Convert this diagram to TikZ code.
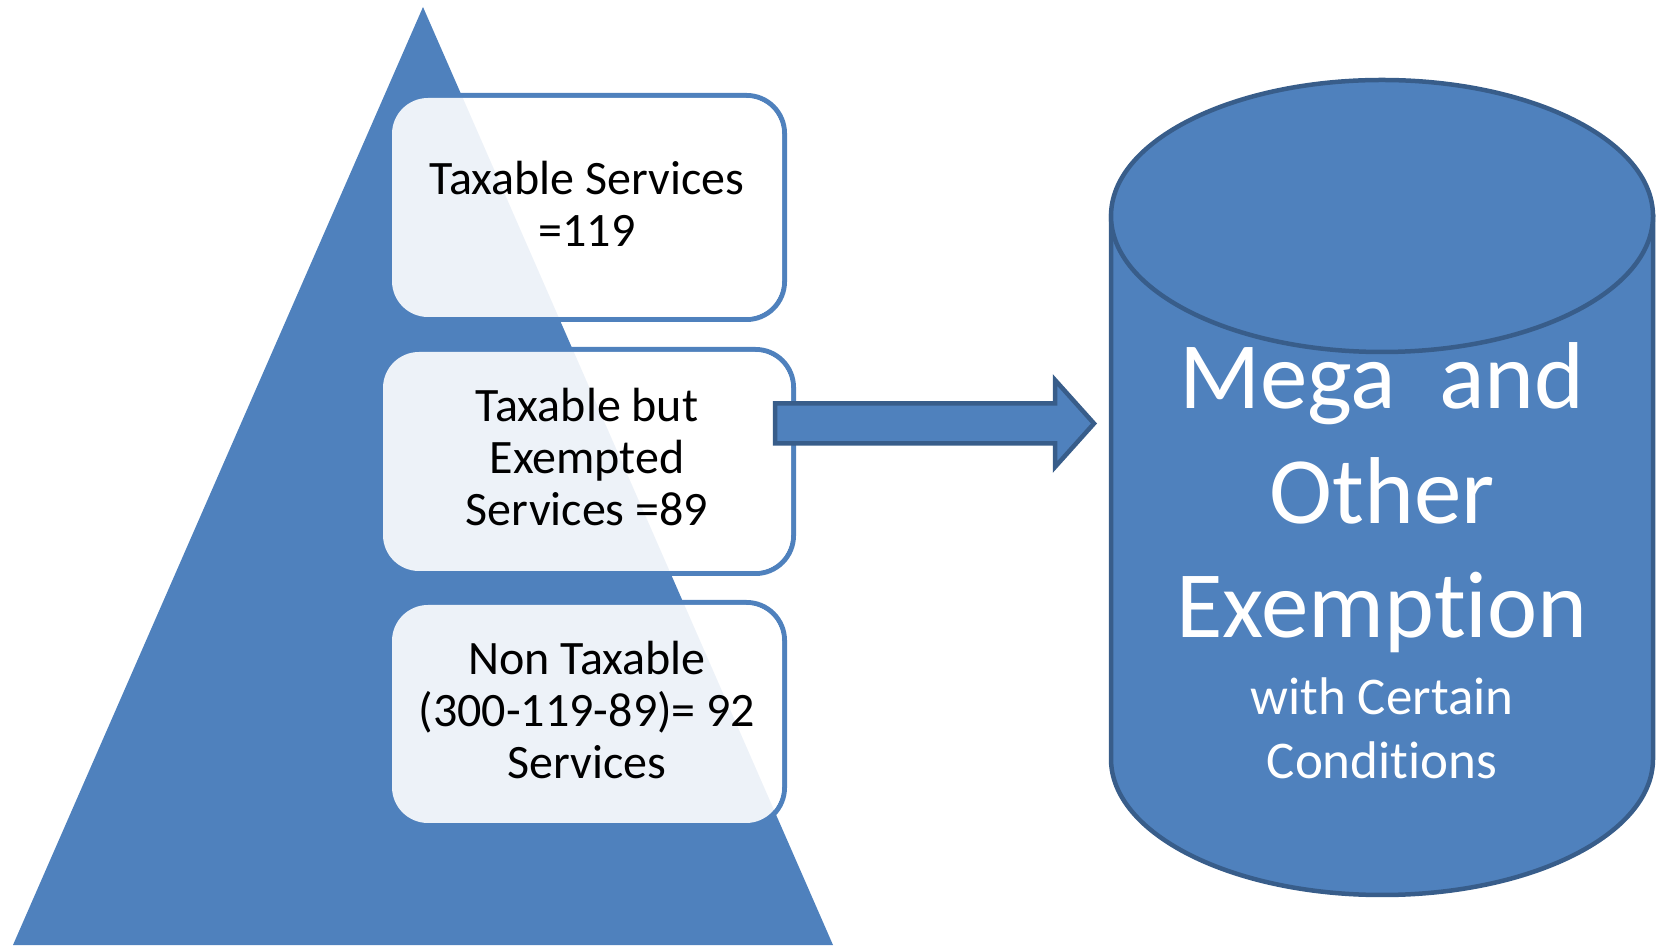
\documentclass[tikz,border=0pt]{standalone}
\usepackage{fontspec}
\setmainfont{Carlito}[Ligatures=NoCommon]
\definecolor{tri}{HTML}{4F81BD}
\definecolor{dark}{HTML}{385D8A}
\tikzset{
  boxfill/.style={fill=white, fill opacity=0.9, rounded corners=36pt},
  boxborder/.style={draw=tri, line width=5pt, rounded corners=38pt},
  boxtext/.style={font=\fontsize{48}{52}\selectfont, text=black, inner sep=0pt, anchor=base},
  bigtext/.style={font=\fontsize{95}{114}\selectfont, text=white, inner sep=0pt, anchor=base},
  smalltext/.style={font=\fontsize{53}{63}\selectfont, text=white, inner sep=0pt, anchor=base},
  solid3d/.style={fill=tri, draw=dark, line width=4.5pt, line join=miter},
}
\begin{document}
\begin{tikzpicture}[x=1pt,y=1pt]
\useasboundingbox (0,0) rectangle (1657,945);
\clip (0,0) rectangle (1657,945);
% pyramid
\fill[tri] (423,938) -- (13,0) -- (833,0) -- cycle;
% boxes
\draw[boxborder] (389.5,625.5) rectangle (784.5,849.5);
\fill[boxfill] (392,628) rectangle (782,847);
\draw[boxborder] (380.5,371.5) rectangle (793.5,595.5);
\fill[boxfill] (383,374) rectangle (791,593);
\draw[boxborder] (389.5,119.5) rectangle (784.5,342.5);
\fill[boxfill] (392,122) rectangle (782,340);
% box texts
\node[boxtext] (t1a) at (587,750) {Taxable Services};
\node[boxtext] (t1b) at (587,698) {=119};
\node[boxtext] (t2a) at (587,523) {Taxable but};
\node[boxtext] (t2b) at (587,471) {Exempted};
\node[boxtext] (t2c) at (587,419) {Services =89};
\node[boxtext] (t3a) at (587,270) {Non Taxable};
\node[boxtext] (t3b) at (587,218) {(300-119-89)= 92};
\node[boxtext] (t3c) at (587,166) {Services};
% block arrow
\filldraw[solid3d] (775,541.5) -- (1055,541.5) -- (1055,565) -- (1094,521.5)
  -- (1055,478) -- (1055,501.5) -- (775,501.5) -- cycle;
% cylinder
\filldraw[solid3d] (1111,729) -- (1111,186)
  arc[start angle=180, end angle=360, x radius=271, y radius=136]
  -- (1653,729) -- cycle;
\filldraw[solid3d] (1382,729) ellipse [x radius=271, y radius=136];
% cylinder texts
\node[bigtext] (c1) at (1382,536) {Mega\ \ and};
\node[bigtext] (c2) at (1382,421) {Other};
\node[bigtext] (c3) at (1382,307) {Exempt\kern0pt ion};
\node[smalltext] (c4) at (1382,230) {with Certain};
\node[smalltext] (c5) at (1382,166) {Condit\kern0pt ions};
\end{tikzpicture}
\end{document}
